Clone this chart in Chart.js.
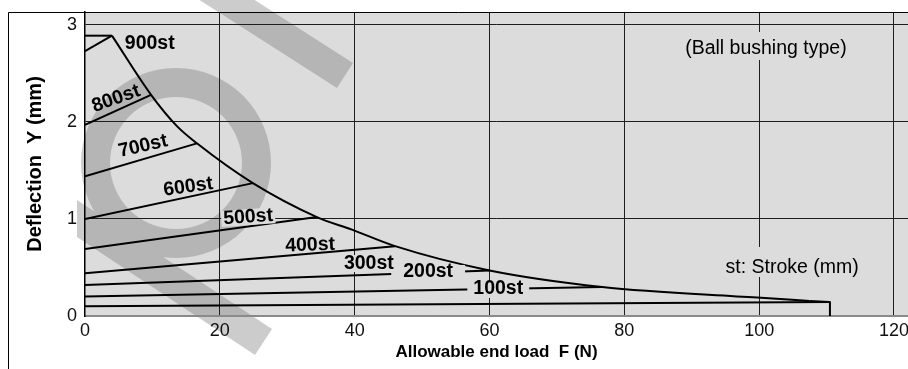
<!DOCTYPE html>
<html><head><meta charset="utf-8">
<script src="https://cdn.jsdelivr.net/npm/chart.js@4.4.1/dist/chart.umd.min.js"></script>
<style>html,body{margin:0;padding:0;background:#fff;overflow:hidden}</style>
</head><body>
<canvas id="c" width="908" height="369" style="display:block;width:908px;height:369px"></canvas>
<script>
// ---- data ----
const strokes = ['900st','800st','700st','600st','500st','400st','300st','200st','100st'];
const startDeflection = [2.73, 1.97, 1.44, 1.00, 0.69, 0.44, 0.32, 0.20, 0.10];
const maxLoad        = [4.0, 9.8, 16.6, 24.9, 34.4, 46.0, 60.0, 76.7, 110.5];
const endDeflection  = [2.89, 2.28, 1.78, 1.37, 1.02, 0.72, 0.47, 0.30, 0.145];
const envelopeLoad       = [4.0, 9.8, 13.6, 16.6, 24.9, 34.4, 39.6, 46.0, 60.0, 76.7, 99.7, 107.5];
const envelopeDeflection = [2.89, 2.28, 1.96, 1.78, 1.37, 1.02, 0.89, 0.72, 0.47, 0.30, 0.19, 0.155];
const limitLoad = 110.5;
const limitDeflection = 0.145;
const xTicks = [0, 20, 40, 60, 80, 100, 120];
const yTicks = [0, 1, 2, 3];
const xTitle = 'Allowable end load  F (N)';
const yTitle = 'Deflection  Y (mm)';

// text annotations (anchored in data units)
const annotations = [
  {text:'900st', x:9.6,  y:2.81,  angle:0,   bold:true},
  {text:'800st', x:4.6,  y:2.24,  angle:-20, bold:true},
  {text:'700st', x:8.6,  y:1.75,  angle:-13, bold:true},
  {text:'600st', x:15.3, y:1.33,  angle:-8,  bold:true},
  {text:'500st', x:24.2, y:1.02,  angle:-4,  bold:true, box:[2,8,8]},
  {text:'400st', x:33.4, y:0.73,  angle:-2,  bold:true},
  {text:'300st', x:42.1, y:0.536, angle:0,   bold:true, box:[2,9,8]},
  {text:'200st', x:50.9, y:0.454, angle:0,   bold:true, box:[12,7,8]},
  {text:'100st', x:61.3, y:0.278, angle:0,   bold:true, box:[6,8,9]},
  {text:'(Ball bushing type)', x:101.0, y:2.753, angle:0, bold:false, box:[4,17,11]},
  {text:'st: Stroke (mm)',     x:104.9, y:0.495, angle:0, bold:false, box:[4,21,9]}
];

const FONT = '"Liberation Sans", Arial, Helvetica, sans-serif';
const PLOT_BG = '#dcdcdc';

const line = (data, extra) => Object.assign({
  data, showLine:true, borderColor:'#000', backgroundColor:'#000',
  borderWidth:2, pointRadius:0, pointHoverRadius:0, tension:0,
  borderJoinStyle:'round', borderCapStyle:'butt'
}, extra || {});

const datasets = strokes.map((s, i) => line(
  [{x:0, y:startDeflection[i]}, {x:maxLoad[i], y:endDeflection[i]}], {label:s}));
datasets.push(line([{x:0, y:envelopeDeflection[0]}, {x:envelopeLoad[0], y:envelopeDeflection[0]}], {label:'cap'}));
datasets.push(line(envelopeLoad.map((x, i) => ({x, y:envelopeDeflection[i]})), {label:'envelope', cubicInterpolationMode:'monotone'}));
const lastI = envelopeLoad.length - 1;
datasets.push(line([{x:envelopeLoad[lastI], y:envelopeDeflection[lastI]}, {x:limitLoad, y:limitDeflection}, {x:limitLoad, y:0}], {label:'limit'}));

const bgPlugin = {
  id:'bg',
  beforeDraw(chart){
    const {ctx, chartArea:a} = chart;
    ctx.save();
    ctx.fillStyle = PLOT_BG;
    ctx.fillRect(a.left, a.top, a.right - a.left, a.bottom - a.top);
    // faint watermark
    ctx.fillStyle = 'rgba(105,105,105,0.34)';
    ctx.beginPath();
    ctx.moveTo(254.6, 0); ctx.lineTo(353, 63); ctx.lineTo(337, 88); ctx.lineTo(199.5, 0); ctx.closePath();
    ctx.moveTo(176 + 95, 163); ctx.arc(176, 163, 95, 0, Math.PI*2, false);
    ctx.moveTo(176 + 66, 163); ctx.arc(176, 163, 66, Math.PI*2, 0, true);
    ctx.moveTo(77, 200); ctx.lineTo(272, 329); ctx.lineTo(255, 355); ctx.lineTo(77, 237); ctx.closePath();
    ctx.fill('nonzero');
    ctx.restore();
  },
  afterDraw(chart){
    const {ctx, chartArea:a} = chart;
    ctx.save();
    ctx.strokeStyle = '#000';
    ctx.lineWidth = 1;
    ctx.beginPath();
    ctx.moveTo(8.5, chart.height); ctx.lineTo(8.5, a.top + 0.5); ctx.lineTo(chart.width, a.top + 0.5);
    ctx.stroke();
    ctx.restore();
  }
};

const labelPlugin = {
  id:'labels',
  afterDatasetsDraw(chart){
    const {ctx} = chart;
    const xs = chart.scales.x, ys = chart.scales.y;
    const items = annotations.map(an => ({
      an, px: xs.getPixelForValue(an.x), py: ys.getPixelForValue(an.y),
      font: (an.bold ? 'bold ' : '') + '19.5px ' + FONT
    }));
    ctx.save();
    items.forEach(it => {
      if (!it.an.box) return;
      ctx.font = it.font;
      const w = ctx.measureText(it.an.text).width;
      const [padX, up, down] = it.an.box;
      ctx.save();
      ctx.translate(it.px, it.py);
      ctx.rotate(it.an.angle * Math.PI / 180);
      ctx.fillStyle = PLOT_BG;
      ctx.fillRect(-w/2 - padX, -up, w + 2*padX, up + down);
      ctx.restore();
    });
    items.forEach(it => {
      ctx.save();
      ctx.translate(it.px, it.py);
      ctx.rotate(it.an.angle * Math.PI / 180);
      ctx.font = it.font;
      ctx.fillStyle = '#000';
      ctx.textAlign = 'center';
      ctx.textBaseline = 'middle';
      ctx.fillText(it.an.text, 0, 0);
      ctx.restore();
    });
    ctx.restore();
  }
};

const gridColor = ctx => (ctx.tick && ctx.tick.value === 0) ? 'rgba(0,0,0,0)' : '#1e1e1e';
const noPad = s => { s.paddingTop = 0; s.paddingBottom = 0; s.paddingLeft = 0; s.paddingRight = 0; };

new Chart(document.getElementById('c'), {
  type:'scatter',
  data:{datasets},
  options:{
    responsive:false, animation:false, devicePixelRatio:1,
    events:[],
    layout:{padding:{left:0, right:0, top:12, bottom:0}},
    plugins:{legend:{display:false}, tooltip:{enabled:false}},
    scales:{
      x:{
        type:'linear', min:0, max:122.08,
        afterBuildTicks: s => { s.ticks = xTicks.map(v => ({value:v})); },
        afterFit: s => { s.height = 53; noPad(s); },
        ticks:{stepSize:20, includeBounds:false, padding:4, color:'#111', font:{family:FONT, size:18}, maxRotation:0},
        grid:{color:gridColor, lineWidth:1, drawTicks:false},
        border:{display:true, color:'#8a8a8a', width:2},
        title:{display:true, text:xTitle, color:'#000', font:{family:FONT, size:17, weight:'bold'}, padding:{top:0, bottom:6}}
      },
      y:{
        type:'linear', min:0, max:3.134,
        afterBuildTicks: s => { s.ticks = yTicks.map(v => ({value:v})); },
        afterFit: s => { s.width = 85; noPad(s); },
        ticks:{stepSize:1, includeBounds:false, padding:8, color:'#111', font:{family:FONT, size:18}},
        grid:{color:gridColor, lineWidth:1, drawTicks:false},
        border:{display:true, color:'#000', width:1.5},
        title:{display:true, text:yTitle, color:'#000', font:{family:FONT, size:20, weight:'bold'}, padding:{top:23, bottom:0}}
      }
    }
  },
  plugins:[bgPlugin, labelPlugin]
});
</script>
</body></html>
